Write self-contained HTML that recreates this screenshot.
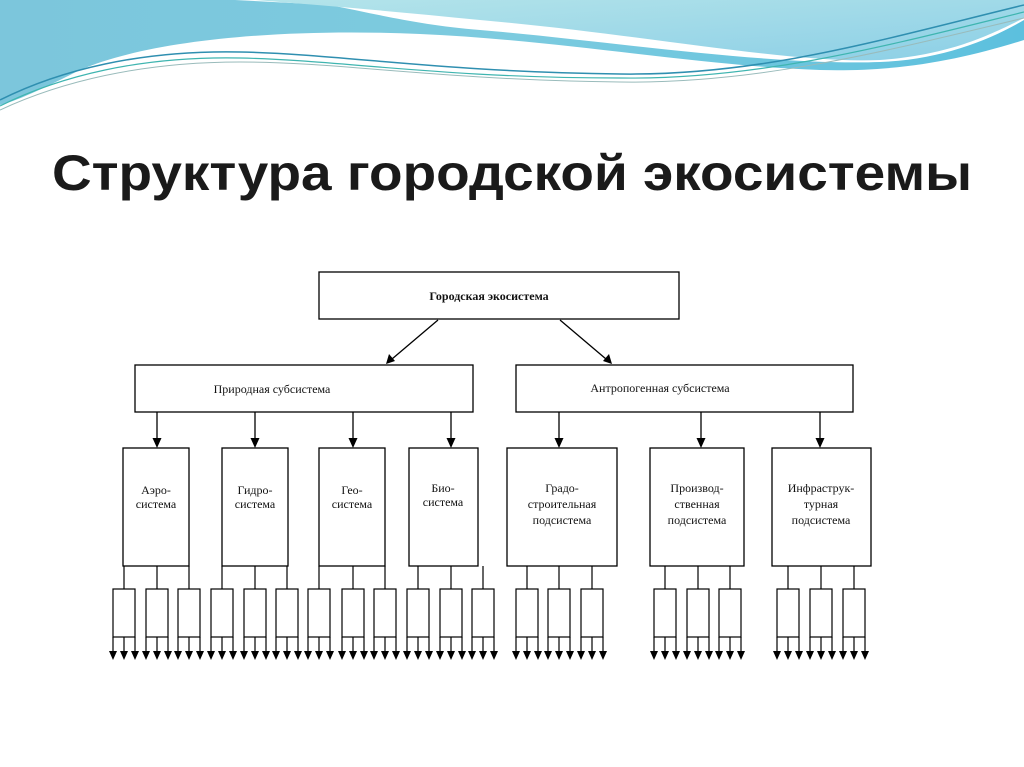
<!DOCTYPE html>
<html><head><meta charset="utf-8"><style>
html,body{margin:0;padding:0;background:#fff;}
svg{display:block}
</style></head><body>
<svg width="1024" height="767" viewBox="0 0 1024 767" xmlns="http://www.w3.org/2000/svg" xmlns:xlink="http://www.w3.org/1999/xlink">
<defs>
<linearGradient id="g1" x1="0" y1="0" x2="1" y2="0">
<stop offset="0" stop-color="#7cc6dc"/><stop offset="0.5" stop-color="#7ccbdf"/><stop offset="1" stop-color="#5cc0de"/>
</linearGradient>
<linearGradient id="g2" x1="0" y1="0" x2="1" y2="1">
<stop offset="0" stop-color="#b4e4ea"/><stop offset="1" stop-color="#8ccfe6"/>
</linearGradient>
<g id="leaf" stroke="#000" stroke-width="1.2">
<line x1="11" y1="566" x2="11" y2="589"/>
<rect x="0" y="589" width="22" height="48" fill="#fff"/>
<line x1="0" y1="637" x2="0" y2="652"/>
<line x1="11" y1="637" x2="11" y2="652"/>
<line x1="22" y1="637" x2="22" y2="652"/>
<path d="M-4,651 L4,651 L0,660 Z M7,651 L15,651 L11,660 Z M18,651 L26,651 L22,660 Z" fill="#000" stroke="none"/>
</g>
<path id="dn" d="M-4.5,0 L4.5,0 L0,10 Z" fill="#000"/>
</defs>
<rect width="1024" height="767" fill="#fff"/>
<!-- header waves -->
<path d="M0,0 L1024,0 L1024,40 C960,60 900,72 820,70 C700,66 560,40 420,34 C280,28 150,40 80,70 C50,85 20,100 0,105 Z" fill="url(#g1)"/>
<path d="M235,0 L1024,0 L1024,20 C990,40 940,60 880,62 C770,66 600,40 480,30 C420,25 380,15 330,5 Z" fill="#fff"/>
<path d="M255,0 L1024,0 L1024,18 C990,35 950,55 880,60 C790,64 650,35 480,20 C400,12 320,5 255,0 Z" fill="url(#g2)"/>
<path d="M0,100 C60,70 140,50 240,52 C340,54 440,72 620,74 C760,76 880,40 1024,5" fill="none" stroke="#2f8fb0" stroke-width="1.5"/>
<path d="M0,106 C60,76 140,56 240,58 C340,60 440,78 620,78 C760,80 890,45 1024,12" fill="none" stroke="#3fb5b0" stroke-width="1.2"/>
<path d="M0,110 C60,82 140,62 240,62 C340,62 440,80 620,82 C760,84 890,50 1024,18" fill="none" stroke="#9bb" stroke-width="1"/>

<text x="52" y="190" textLength="920" lengthAdjust="spacingAndGlyphs" font-family="Liberation Sans, sans-serif" font-weight="bold" font-size="50" fill="#1a1a1a">Структура городской экосистемы</text>

<g font-family="Liberation Serif, serif" font-size="12" fill="#111" stroke="#000" stroke-width="1.3">
<rect x="319" y="272" width="360" height="47" fill="#fff"/>
<rect x="135" y="365" width="338" height="47" fill="#fff"/>
<rect x="516" y="365" width="337" height="47" fill="#fff"/>
<line x1="438" y1="320" x2="392" y2="359"/>
<line x1="560" y1="320" x2="606" y2="359"/>
<path d="M386,364 L389,354 L395,361 Z M612,364 L603,361 L609,354 Z" fill="#000" stroke="none"/>
<line x1="157" y1="412" x2="157" y2="440"/>
<line x1="255" y1="412" x2="255" y2="440"/>
<line x1="353" y1="412" x2="353" y2="440"/>
<line x1="451" y1="412" x2="451" y2="440"/>
<line x1="559" y1="412" x2="559" y2="440"/>
<line x1="701" y1="412" x2="701" y2="440"/>
<line x1="820" y1="412" x2="820" y2="440"/>
<g stroke="none">
<use xlink:href="#dn" href="#dn" x="157" y="438"/>
<use xlink:href="#dn" href="#dn" x="255" y="438"/>
<use xlink:href="#dn" href="#dn" x="353" y="438"/>
<use xlink:href="#dn" href="#dn" x="451" y="438"/>
<use xlink:href="#dn" href="#dn" x="559" y="438"/>
<use xlink:href="#dn" href="#dn" x="701" y="438"/>
<use xlink:href="#dn" href="#dn" x="820" y="438"/>
</g>
<rect x="123" y="448" width="66" height="118" fill="#fff"/>
<rect x="222" y="448" width="66" height="118" fill="#fff"/>
<rect x="319" y="448" width="66" height="118" fill="#fff"/>
<rect x="409" y="448" width="69" height="118" fill="#fff"/>
<rect x="507" y="448" width="110" height="118" fill="#fff"/>
<rect x="650" y="448" width="94" height="118" fill="#fff"/>
<rect x="772" y="448" width="99" height="118" fill="#fff"/>
<g stroke="none">
<text x="489" y="300" text-anchor="middle" font-weight="bold">Городская экосистема</text>
<text x="272" y="393" text-anchor="middle">Природная субсистема</text>
<text x="660" y="392" text-anchor="middle">Антропогенная субсистема</text>
<text x="156" y="494" text-anchor="middle">Аэро-</text><text x="156" y="508" text-anchor="middle">система</text>
<text x="255" y="494" text-anchor="middle">Гидро-</text><text x="255" y="508" text-anchor="middle">система</text>
<text x="352" y="494" text-anchor="middle">Гео-</text><text x="352" y="508" text-anchor="middle">система</text>
<text x="443" y="492" text-anchor="middle">Био-</text><text x="443" y="506" text-anchor="middle">система</text>
<text x="562" y="492" text-anchor="middle">Градо-</text><text x="562" y="508" text-anchor="middle">строительная</text><text x="562" y="524" text-anchor="middle">подсистема</text>
<text x="697" y="492" text-anchor="middle">Производ-</text><text x="697" y="508" text-anchor="middle">ственная</text><text x="697" y="524" text-anchor="middle">подсистема</text>
<text x="821" y="492" text-anchor="middle">Инфраструк-</text><text x="821" y="508" text-anchor="middle">турная</text><text x="821" y="524" text-anchor="middle">подсистема</text>
</g>
</g>
<g>
<use href="#leaf" xlink:href="#leaf" x="113"/>
<use href="#leaf" xlink:href="#leaf" x="146"/>
<use href="#leaf" xlink:href="#leaf" x="178"/>
<use href="#leaf" xlink:href="#leaf" x="211"/>
<use href="#leaf" xlink:href="#leaf" x="244"/>
<use href="#leaf" xlink:href="#leaf" x="276"/>
<use href="#leaf" xlink:href="#leaf" x="308"/>
<use href="#leaf" xlink:href="#leaf" x="342"/>
<use href="#leaf" xlink:href="#leaf" x="374"/>
<use href="#leaf" xlink:href="#leaf" x="407"/>
<use href="#leaf" xlink:href="#leaf" x="440"/>
<use href="#leaf" xlink:href="#leaf" x="472"/>
<use href="#leaf" xlink:href="#leaf" x="516"/>
<use href="#leaf" xlink:href="#leaf" x="548"/>
<use href="#leaf" xlink:href="#leaf" x="581"/>
<use href="#leaf" xlink:href="#leaf" x="654"/>
<use href="#leaf" xlink:href="#leaf" x="687"/>
<use href="#leaf" xlink:href="#leaf" x="719"/>
<use href="#leaf" xlink:href="#leaf" x="777"/>
<use href="#leaf" xlink:href="#leaf" x="810"/>
<use href="#leaf" xlink:href="#leaf" x="843"/>
</g>
</svg>
</body></html>
